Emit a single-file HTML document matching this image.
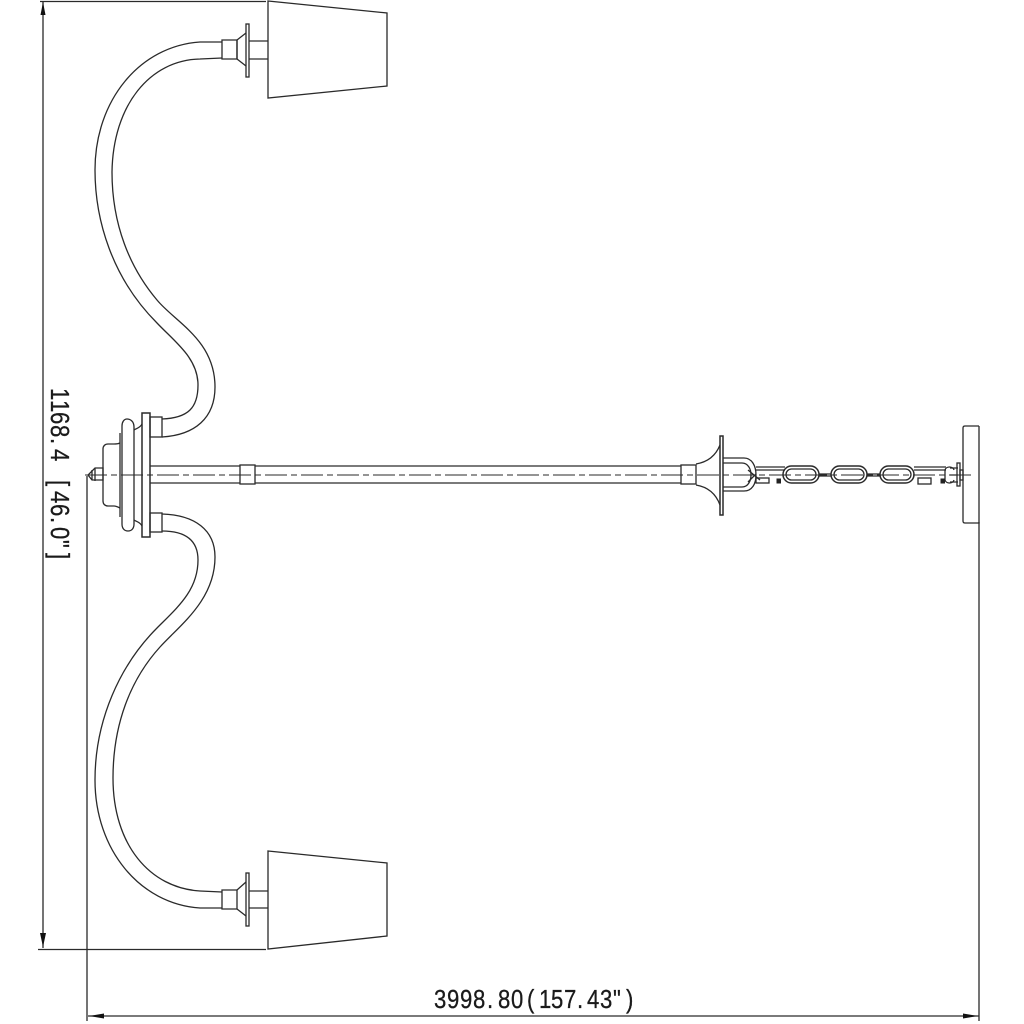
<!DOCTYPE html>
<html>
<head>
<meta charset="utf-8">
<style>
html,body{margin:0;padding:0;background:#fff;width:1024px;height:1024px;overflow:hidden}
svg{display:block}
text{font-family:"Liberation Sans",sans-serif;fill:#1a1a1a;stroke:#1a1a1a;stroke-width:.3}
</style>
</head>
<body>
<svg width="1024" height="1024" viewBox="0 0 1024 1024" xmlns="http://www.w3.org/2000/svg">
<rect width="1024" height="1024" fill="#fff"/>
<g fill="none" stroke="#2a2a2a" stroke-width="1.3">
  <!-- dimension lines -->
  <path d="M40 1.5H266M38 949.5H266M43 2V948M87 476V1021M88 1016H979M979 522V1021"/>
  <!-- shades -->
  <path d="M268 1L387 13V86L268 98Z"/>
  <path d="M268 851L387 863V936L268 949Z"/>
  <!-- top fitting -->
  <path d="M222 40H237V59H222Z"/>
  <path d="M237 40L246 33M237 59L246 66M237 40V59"/>
  <rect x="246" y="24" width="3" height="53"/>
  <path d="M249 41H268M249 59H268"/>
  <!-- bottom fitting -->
  <path d="M222 890H237V909H222Z"/>
  <path d="M237 890L246 882M237 909L246 916"/>
  <rect x="246" y="873" width="3" height="53"/>
  <path d="M249 891H268M249 908H268"/>
  <!-- top arm -->
  <path d="M222 42L200 42C140 46 95 100 95 170C95 220 112 278 157 323C175 342 198 358 198 385C198 408 188 418 162 419"/>
  <path d="M222 58L200 59C150 60 113 105 112 172C112 225 130 268 157 300C175 322 215 340 215 387C215 418 195 435 162 437"/>
  <!-- bottom arm -->
  <path d="M222 908L200 908C140 904 95 850 95 780C95 720 120 665 157 628C178 607 198 590 198 560C198 540 185 531 162 531"/>
  <path d="M222 892L200 891C150 888 113 845 113 778C113 725 130 680 160 647C180 625 215 600 215 557C215 530 195 515 162 514"/>
  <!-- base connectors -->
  <rect x="150" y="417" width="12" height="20"/>
  <rect x="150" y="513" width="12" height="19"/>
  <!-- central hub -->
  <rect x="142" y="413" width="8" height="124" stroke-width="1.5"/>
  <path d="M134 430C137 428 140 428 142 424M134 520C137 522 140 522 142 526"/>
  <path d="M134 427C134 421 130 419 127 419C124 419 122 422 122 426L122 524C122 528 124 531 128 531C132 531 134 528 134 524Z"/>
  <path d="M120 433V517"/>
  <path d="M120 443C118 444 116 444 114 444H108C105 444 103 446 103 449V501C103 504 105 506 108 506H114C116 506 118 507 120 508"/>
  <!-- finial -->
  <path d="M103 468H95L88 475L92 480H103V468Z"/>
  <path d="M95 468V481M92 470V480"/>
  <!-- rod -->
  <path d="M150 466H240M150 483H240M255 466H681M255 483H681"/>
  <rect x="240" y="465" width="15" height="19"/>
  <!-- top bell -->
  <rect x="681" y="465" width="15" height="19"/>
  <path d="M696 464C708 462 716 455 720 445M696 485C708 487 716 494 720 505"/>
  <rect x="720" y="436" width="3" height="79" stroke-width="1.5"/>
  <!-- U bracket -->
  <path d="M723 458H744C752 458 756 466 756 475C756 484 752 491 744 491H723"/>
  <path d="M723 463H742C748 463 751 469 751 475C751 481 748 487 742 487H723"/>
  <path d="M748 470L760 480M748 482L756 474"/>
  <rect x="756" y="478" width="13" height="5"/>
  <path d="M756 467H785M756 470H785"/>
  <!-- chain links -->
  <rect x="783" y="466" width="36" height="17" rx="8.5" stroke-width="1.5"/>
  <rect x="786" y="469" width="30" height="11" rx="5.5"/>
  <rect x="831" y="466" width="36" height="17" rx="8.5" stroke-width="1.5"/>
  <rect x="834" y="469" width="30" height="11" rx="5.5"/>
  <rect x="880" y="466" width="34" height="17" rx="8.5" stroke-width="1.5"/>
  <rect x="883" y="469" width="28" height="11" rx="5.5"/>
  <path d="M819 474H831M819 476H831M867 474H880M867 476H880"/>
  <!-- last section -->
  <path d="M914 467H946M914 470H946"/>
  <rect x="918" y="478" width="13" height="6"/>
  <path d="M945 470C946 466 953 466 954 470M945 480C946 484 953 484 954 480M945 470V480"/>
  <path d="M950 468H958M950 475H958M950 482H958"/>
  <rect x="957" y="463" width="3" height="23"/>
  <rect x="960" y="470" width="3" height="10"/>
  <!-- ceiling plate -->
  <path d="M979 426H965Q963 426 963 428V521Q963 523 965 523H979V426"/>
  <!-- centre line -->
  <path d="M85 475H975" stroke-width="1.1" stroke-dasharray="22 4 6 4"/>
</g>
<!-- small blobs -->
<rect x="776.5" y="478.5" width="4.5" height="5" fill="#222"/>
<rect x="940.5" y="478.5" width="4.5" height="5" fill="#222"/>
<!-- arrowheads -->
<g fill="#111">
  <path d="M43 2L40.5 15H45.5Z"/>
  <path d="M43 947L40 933H46Z"/>
  <path d="M89 1016L104 1013.5V1018.5Z"/>
  <path d="M978 1016L963 1013.5V1018.5Z"/>
</g>
<!-- labels -->
<text transform="translate(434 1008) scale(.85 1)" font-size="26" x="0 15.3 30.6 45.9 62.4 75.3 90.6 109.4 123.5 137.6 152.9 168.2 180 195.3 210.6 225.9">3998.80(157.43")</text>
<text transform="translate(51 388) rotate(90) scale(.85 1)" font-size="26" x="0 14.1 28.2 43.5 58.8 71.8 108.2 121.2 136.5 151.8 163.5 178.8 194.1">1168.4[46.0"]</text>
</svg>
</body>
</html>
